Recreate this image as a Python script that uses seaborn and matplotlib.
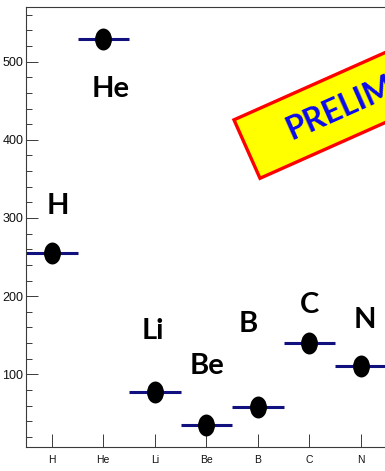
import numpy as np
import pandas as pd
import matplotlib
matplotlib.use("Agg")
import matplotlib.pyplot as plt
from matplotlib.path import Path
from matplotlib.transforms import Affine2D, IdentityTransform
from matplotlib.patches import Rectangle
from matplotlib.ticker import MultipleLocator, FixedLocator
import seaborn as sns

# Measured quantity per element
elements = ["H", "He", "Li", "Be", "B", "C", "N"]
values = [255.6, 528.7, 77.0, 35.1, 58.5, 139.7, 111.0]

# Anchor (x, baseline y) of the big element names, in data units
name_anchor_x = [0.12, 1.15, 1.97, 3.02, 3.81, 5.01, 6.08]
name_anchor_y = [304.5, 454.4, 144.7, 100.0, 153.7, 179.0, 158.8]

df = pd.DataFrame({"element": elements, "pos": np.arange(len(elements)), "value": values})

sns.set_style("ticks")
plt.rcParams["font.family"] = ["Liberation Sans", "DejaVu Sans"]

W, H = 385, 471
fig = plt.figure(figsize=(W / 100, H / 100), dpi=100)
fig.patch.set_facecolor("white")
ax = fig.add_axes([26 / W, 23.7 / H, 360.5 / W, (463.7 - 23.7) / H])

# Elliptical filled marker, a bit taller than wide
ellipse = Path.unit_circle().transformed(Affine2D().scale(0.77, 1.0))

# Horizontal bars spanning each bin
ax.errorbar(df["pos"], df["value"], xerr=0.5, fmt="none", ecolor="#10107f",
            elinewidth=2.2, capsize=0, zorder=2)
sns.scatterplot(data=df, x="pos", y="value", marker=ellipse, s=15.8 ** 2,
                color="black", edgecolor="black", linewidth=0, zorder=3,
                legend=False, ax=ax)

ax.set_xlim(-0.5, 6.5)
ax.set_ylim(6.6, 569.6)
ax.set_xlabel("")
ax.set_ylabel("")

ax.xaxis.set_major_locator(FixedLocator(df["pos"]))
ax.set_xticklabels(elements, fontfamily=["Liberation Sans Narrow", "Liberation Sans"], fontsize=7.5)
ax.yaxis.set_major_locator(MultipleLocator(100))
ax.yaxis.set_minor_locator(MultipleLocator(20))

for side in ("left", "bottom", "top"):
    ax.spines[side].set_color("#3a3a3a")
    ax.spines[side].set_linewidth(0.8)
ax.spines["right"].set_visible(False)

ax.tick_params(axis="y", which="major", direction="in", length=8.6, width=0.7,
               color="#3a3a3a", labelsize=9, pad=2, labelcolor="#111111")
ax.tick_params(axis="y", which="minor", direction="in", length=4.3, width=0.7,
               color="#3a3a3a")
ax.tick_params(axis="x", which="major", direction="in", length=9.4, width=0.7,
               color="#3a3a3a", pad=5.5, labelcolor="#111111")
ax.tick_params(axis="x", which="minor", bottom=False)

# Element names above the points
for name, x, y in zip(elements, name_anchor_x, name_anchor_y):
    ax.text(x, y, name, ha="center", va="baseline", fontsize=21,
            fontweight="bold", family=["Lato", "DejaVu Sans"], color="black", zorder=4)

# Tilted "PRELIMINARY" banner, laid out in pixels
angle = 24.0
corner = np.array([260.0, H - 178.3])
u = np.array([np.cos(np.radians(angle)), np.sin(np.radians(angle))])
n = np.array([-u[1], u[0]])
banner = Rectangle(corner, 420, 64, angle=angle, rotation_point="xy",
                   facecolor="#ffff00", edgecolor="#ff0000", linewidth=2.4,
                   transform=IdentityTransform(), zorder=5)
fig.add_artist(banner)
tpos = corner + 44 * u + 22 * n
fig.text(tpos[0], tpos[1], "PRELIMINARY", transform=IdentityTransform(),
         rotation=angle, rotation_mode="anchor", ha="left", va="baseline",
         fontsize=23, fontweight="bold", family=["Lato", "DejaVu Sans"],
         color="#0a0aee", zorder=6)

fig.savefig("out.png", dpi=100)
